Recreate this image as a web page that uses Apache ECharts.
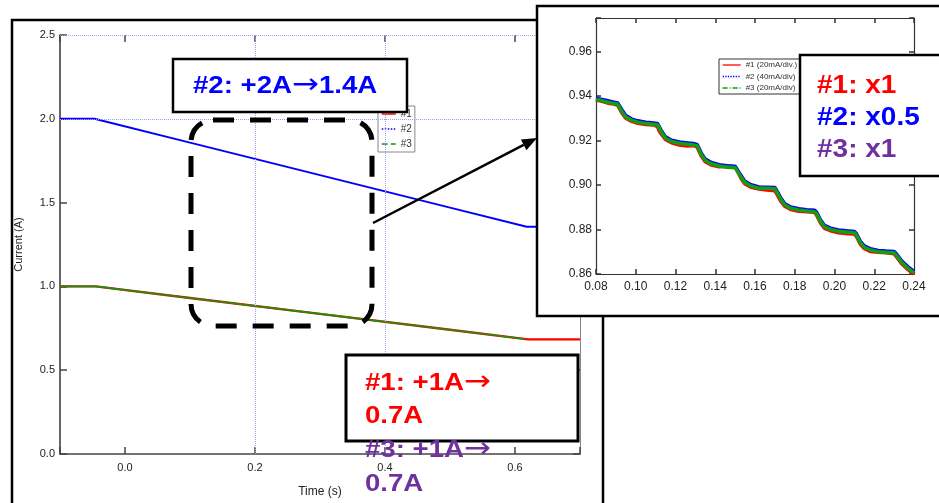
<!DOCTYPE html>
<html><head><meta charset="utf-8">
<script src="https://cdn.jsdelivr.net/npm/echarts@6/dist/echarts.min.js"></script>
<style>html,body{margin:0;padding:0;background:#fff}#c{width:939px;height:503px}</style>
</head><body><div id="c"></div>
<script>
// ---------- data ----------
const mainNames = ['#1', '#2', '#3'];
const insetNames = ['#1 (20mA/div.)', '#2 (40mA/div)', '#3 (20mA/div)'];

// main chart: Current (A) vs Time (s)
const main1 = [[-0.1,1.0],[-0.045,1.0],[0.1,0.931],[0.3,0.836],[0.5,0.741],[0.62,0.684],[0.7,0.684]];
const main2 = [[-0.1,2.0],[-0.047,2.0],[0.1,1.858],[0.3,1.664],[0.5,1.470],[0.618,1.356],[0.7,1.356]];
const main3 = [[-0.1,1.0],[-0.045,1.0],[0.1,0.931],[0.3,0.836],[0.5,0.741],[0.615,0.686]];

// inset (zoom 0.08–0.24 s)
const ins1 = [[0.080,0.9382],[0.083,0.9376],[0.086,0.9368],[0.089,0.9364],[0.091,0.9358],[0.093,0.9325],[0.095,0.9300],[0.098,0.9286],[0.101,0.9278],[0.105,0.9272],[0.109,0.9270],[0.111,0.9262],[0.112,0.9240],[0.115,0.9205],[0.118,0.9190],[0.122,0.9180],[0.126,0.9176],[0.129,0.9178],[0.131,0.9170],[0.133,0.9130],[0.135,0.9105],[0.138,0.9090],[0.142,0.9082],[0.146,0.9085],[0.150,0.9080],[0.151,0.9066],[0.153,0.9030],[0.155,0.9005],[0.158,0.8990],[0.162,0.8982],[0.166,0.8978],[0.170,0.8975],[0.171,0.8960],[0.173,0.8928],[0.175,0.8905],[0.178,0.8890],[0.182,0.8882],[0.186,0.8880],[0.190,0.8878],[0.191,0.8865],[0.193,0.8830],[0.195,0.8806],[0.198,0.8795],[0.202,0.8786],[0.206,0.8782],[0.210,0.8780],[0.211,0.8770],[0.213,0.8735],[0.215,0.8715],[0.218,0.8702],[0.222,0.8698],[0.226,0.8696],[0.230,0.8692],[0.231,0.8680],[0.234,0.8645],[0.237,0.8620],[0.240,0.8600]];
const ins2 = [[0.080,0.9390],[0.083,0.9384],[0.086,0.9378],[0.089,0.9372],[0.091,0.9368],[0.093,0.9338],[0.095,0.9312],[0.098,0.9296],[0.101,0.9288],[0.105,0.9282],[0.109,0.9278],[0.111,0.9276],[0.113,0.9242],[0.115,0.9216],[0.118,0.9201],[0.122,0.9193],[0.126,0.9189],[0.129,0.9186],[0.131,0.9181],[0.133,0.9142],[0.135,0.9116],[0.138,0.9101],[0.142,0.9091],[0.146,0.9086],[0.150,0.9084],[0.151,0.9077],[0.153,0.9042],[0.155,0.9016],[0.158,0.9001],[0.162,0.8991],[0.166,0.8990],[0.170,0.8989],[0.171,0.8982],[0.173,0.8942],[0.175,0.8916],[0.178,0.8901],[0.182,0.8893],[0.186,0.8889],[0.190,0.8886],[0.191,0.8877],[0.193,0.8842],[0.195,0.8818],[0.198,0.8806],[0.202,0.8798],[0.206,0.8794],[0.210,0.8791],[0.211,0.8782],[0.213,0.8747],[0.215,0.8726],[0.218,0.8714],[0.222,0.8706],[0.226,0.8703],[0.230,0.8701],[0.231,0.8692],[0.234,0.8657],[0.237,0.8632],[0.240,0.8612]];
const ins3 = [[0.080,0.9385],[0.083,0.9378],[0.086,0.9372],[0.089,0.9366],[0.091,0.9362],[0.093,0.9330],[0.095,0.9305],[0.098,0.9290],[0.101,0.9282],[0.105,0.9276],[0.109,0.9272],[0.111,0.9270],[0.113,0.9235],[0.115,0.9210],[0.118,0.9195],[0.122,0.9187],[0.126,0.9183],[0.129,0.9180],[0.131,0.9175],[0.133,0.9135],[0.135,0.9110],[0.138,0.9095],[0.142,0.9085],[0.146,0.9080],[0.150,0.9078],[0.151,0.9070],[0.153,0.9035],[0.155,0.9010],[0.158,0.8995],[0.162,0.8985],[0.166,0.8985],[0.170,0.8983],[0.171,0.8975],[0.173,0.8935],[0.175,0.8910],[0.178,0.8895],[0.182,0.8887],[0.186,0.8883],[0.190,0.8880],[0.191,0.8870],[0.193,0.8835],[0.195,0.8812],[0.198,0.8800],[0.202,0.8792],[0.206,0.8788],[0.210,0.8785],[0.211,0.8775],[0.213,0.8740],[0.215,0.8720],[0.218,0.8708],[0.222,0.8700],[0.226,0.8697],[0.230,0.8695],[0.231,0.8685],[0.234,0.8650],[0.237,0.8625],[0.240,0.8605]];

// axis ranges / ticks
const mainXRange = [-0.1, 0.7];
const mainXStep = 0.2;
const mainYRange = [0, 2.5];
const mainYStep = 0.5;
const insXRange = [0.08, 0.24];
const insXStep = 0.02;
const insYRange = [0.86, 0.975];
const insYStep = 0.02;
const mainGridX = [0.2, 0.4];
const mainGridY = [2.0, 2.5];
const insGridX = [0.12, 0.18];
const insGridY = [0.86, 0.92, 0.96];

// annotation texts
const noteTop = '#2: +2A→1.4A';
const noteBottom = [['#1: +1A→', '0.7A'], ['#3: +1A→', '0.7A']];
const noteInset = ['#1: x1', '#2: x0.5', '#3: x1'];

// ---------- chart ----------
const RED = '#ff0000', BLUE = '#0000ff', GREEN = '#0a9a0a', PURPLE = '#7030a0';
const AX_FONT = 'sans-serif';
const TXT_FONT = '"Liberation Sans",Arial,sans-serif';

const chart = echarts.init(document.getElementById('c'));

function isStep(v, step, base) {
  const k = (v - base) / step;
  return Math.abs(k - Math.round(k)) < 1e-6;
}

const tick = (len, color) => ({show: true, inside: true, length: len, lineStyle: {color: color, width: 1.5}});

const gridLineStyle = {color: '#9c9cf0', type: 'dotted', width: 1};
const edgeLine = (c, w, idx, show) => ({show: show !== false, onZeroAxisIndex: idx, lineStyle: {color: c, width: w}});
const plainLine = (c, w) => ({show: true, lineStyle: {color: c, width: w}});

const xAxis = [
  { gridIndex: 0, type: 'value', position: 'bottom', min: mainXRange[0], max: mainXRange[1], splitNumber: 4,
    axisLine: edgeLine('#444', 1.5, 4), axisTick: tick(7, '#444'),
    splitLine: {show: false},
    axisLabel: {margin: 8, color: '#222', fontSize: 11, fontFamily: AX_FONT,
      formatter: v => isStep(v, mainXStep, 0) ? v.toFixed(1) : ''},
    name: 'Time (s)', nameLocation: 'middle', nameGap: 32,
    nameTextStyle: {color: '#222', fontSize: 12, fontFamily: AX_FONT} },
  { gridIndex: 0, type: 'value', position: 'top', min: mainXRange[0], max: mainXRange[1], splitNumber: 4,
    axisLine: edgeLine('#9c9cf0', 1, 4, false), axisTick: tick(7, '#444'), axisLabel: {show: false}, splitLine: {show: false} },
  { gridIndex: 1, type: 'value', position: 'bottom', min: insXRange[0], max: insXRange[1], interval: insXStep, z: 22,
    axisLine: plainLine('#333', 1.2), axisTick: tick(5, '#333'),
    splitLine: {show: false},
    axisLabel: {margin: 7, color: '#222', fontSize: 12, fontFamily: AX_FONT, formatter: v => v.toFixed(2)} },
  { gridIndex: 1, type: 'value', position: 'top', min: insXRange[0], max: insXRange[1], interval: insXStep, z: 22,
    axisLine: plainLine('#333', 1.2), axisTick: tick(5, '#333'),
    axisLabel: {show: false}, splitLine: {show: false} },
  { gridIndex: 0, type: 'value', min: 1, max: 2, show: false }
];

const yAxis = [
  { gridIndex: 0, type: 'value', position: 'left', min: mainYRange[0], max: mainYRange[1], interval: mainYStep,
    axisLine: edgeLine('#333', 1.5, 4), axisTick: tick(7, '#444'),
    splitLine: {show: false},
    axisLabel: {margin: 5, color: '#222', fontSize: 11, fontFamily: AX_FONT, formatter: v => v.toFixed(1)},
    name: 'Current (A)', nameLocation: 'middle', nameGap: 36,
    nameTextStyle: {color: '#222', fontSize: 11, fontFamily: AX_FONT} },
  { gridIndex: 0, type: 'value', position: 'right', min: mainYRange[0], max: mainYRange[1], interval: mainYStep,
    axisLine: edgeLine('#888', 1, 4), axisTick: tick(7, '#444'),
    axisLabel: {show: false}, splitLine: {show: false} },
  { gridIndex: 1, type: 'value', position: 'left', min: insYRange[0], max: insYRange[1], interval: insYStep, z: 22,
    axisLine: plainLine('#333', 1.2), axisTick: tick(5, '#333'),
    splitLine: {show: false}, axisLabel: {margin: 4, color: '#222', fontSize: 12, fontFamily: AX_FONT,
      formatter: v => isStep(v, insYStep, insYRange[0]) ? v.toFixed(2) : ''} },
  { gridIndex: 1, type: 'value', position: 'right', min: insYRange[0], max: insYRange[1], interval: insYStep, z: 22,
    axisLine: plainLine('#333', 1.2), axisTick: tick(5, '#333'),
    axisLabel: {show: false}, splitLine: {show: false} },
  { gridIndex: 0, type: 'value', min: 1, max: 2, show: false }
];

const lineSeries = (name, data, color, width, xi, yi, z) => ({
  name, type: 'line', data, xAxisIndex: xi, yAxisIndex: yi, z,
  symbol: 'none', showSymbol: false, smooth: false, silent: true,
  lineStyle: {color, width, type: 'solid'}, itemStyle: {color}
});

const series = [
  { type: 'line', data: [], xAxisIndex: 0, yAxisIndex: 0, z: 1, silent: true,
    markLine: {silent: true, symbol: 'none', label: {show: false}, lineStyle: gridLineStyle, animation: false,
      data: mainGridY.map(v => ({yAxis: v})).concat(mainGridX.map(v => ({xAxis: v})))} },
  lineSeries(mainNames[1], main2, BLUE, 2, 0, 0, 2),
  lineSeries(mainNames[0], main1, RED, 2.4, 0, 0, 2),
  lineSeries(mainNames[2], main3, GREEN, 1.6, 0, 0, 3),
  { type: 'line', data: [], xAxisIndex: 2, yAxisIndex: 2, z: 23, silent: true,
    markLine: {silent: true, symbol: 'none', label: {show: false}, lineStyle: gridLineStyle, animation: false,
      data: insGridY.map(v => ({yAxis: v})).concat(insGridX.map(v => ({xAxis: v})))} },
  lineSeries(insetNames[0], ins1, RED, 3.8, 2, 2, 24),
  lineSeries(insetNames[1], ins2, BLUE, 3.5, 2, 2, 24),
  lineSeries(insetNames[2], ins3, '#11a011', 3.6, 2, 2, 25)
];

// arrow geometry (annotation)
const aStart = [373, 223], aTip = [537, 138];
const dx = aTip[0] - aStart[0], dy = aTip[1] - aStart[1], L = Math.hypot(dx, dy);
const ux = dx / L, uy = dy / L, hl = 15, hw = 6;
const bx = aTip[0] - ux * hl, by = aTip[1] - uy * hl;

const bigRich = (color, size) => ({
  b: {fontFamily: TXT_FONT, fontWeight: 'bold', fontSize: size, fill: color},
  a: {fontFamily: '"DejaVu Sans",sans-serif', fontWeight: 'normal', fontSize: size + 4, fill: color}
});
const splitArrow = s => s.replace('→', '}{a|→}{b|');

function noteText(txt, x, y, color, size, sx, z) {
  return { type: 'text', x, y, scaleX: sx, z, silent: true,
    style: {text: '{b|' + splitArrow(txt) + '}', rich: bigRich(color, size), verticalAlign: 'middle', align: 'left'} };
}

const graphics = [
  {type: 'rect', z: 0, silent: true, shape: {x: 12, y: 20, width: 591, height: 520},
    style: {fill: 'none', stroke: '#000', lineWidth: 2.5}},
  {type: 'rect', z: 9, silent: true, shape: {x: 191, y: 120, width: 181, height: 206, r: 22},
    style: {fill: 'none', stroke: '#000', lineWidth: 5, lineDash: [21, 16]}},
  {type: 'line', z: 9, silent: true, shape: {x1: aStart[0], y1: aStart[1], x2: bx, y2: by},
    style: {stroke: '#000', lineWidth: 2.5}},
  {type: 'polygon', z: 9, silent: true,
    shape: {points: [aTip, [bx - uy * hw, by + ux * hw], [bx + uy * hw, by - ux * hw]]},
    style: {fill: '#000'}},
  {type: 'rect', z: 10, silent: true, shape: {x: 173, y: 59, width: 234, height: 53},
    style: {fill: '#fff', stroke: '#000', lineWidth: 2.5}},
  noteText(noteTop, 193, 86, BLUE, 24, 1.15, 11),
  {type: 'rect', z: 20, silent: true, shape: {x: 346, y: 355, width: 232, height: 86},
    style: {fill: '#fff', stroke: '#000', lineWidth: 3}},
  noteText(noteBottom[0][0], 365, 383, RED, 24, 1.15, 21),
  noteText(noteBottom[0][1], 365, 416, RED, 24, 1.15, 21),
  noteText(noteBottom[1][0], 365, 450, PURPLE, 24, 1.15, 21),
  noteText(noteBottom[1][1], 365, 484, PURPLE, 24, 1.15, 21),
  {type: 'rect', z: 20, silent: true, shape: {x: 537, y: 6, width: 420, height: 310},
    style: {fill: '#fff', stroke: '#000', lineWidth: 2.5}},
  {type: 'rect', z: 30, silent: true, shape: {x: 800, y: 55, width: 150, height: 121},
    style: {fill: '#fff', stroke: '#000', lineWidth: 2.5}},
  noteText(noteInset[0], 817, 86, RED, 25, 1.12, 31),
  noteText(noteInset[1], 817, 118, BLUE, 25, 1.12, 31),
  noteText(noteInset[2], 817, 150, PURPLE, 25, 1.12, 31)
];

const option = {
  animation: false,
  backgroundColor: '#fff',
  grid: [
    {left: 60, top: 35, width: 520, height: 424},
    {left: 596, top: 18, width: 318, height: 256}
  ],
  xAxis, yAxis, series,
  legend: [
    { data: [{name: mainNames[0]}, {name: mainNames[1], lineStyle: {type: 'dotted'}}, {name: mainNames[2], lineStyle: {type: 'dashed'}}],
      left: 378, top: 106, orient: 'vertical', itemWidth: 14, itemHeight: 8, itemGap: 5,
      padding: [3, 3, 3, 3], borderColor: '#888', borderWidth: 1, borderRadius: 0, backgroundColor: '#fff',
      itemStyle: {opacity: 0},
      textStyle: {fontSize: 10, color: '#333'}, lineStyle: {width: 1.5}, z: 5, selectedMode: false },
    { data: [{name: insetNames[0]}, {name: insetNames[1], lineStyle: {type: 'dotted'}}, {name: insetNames[2], lineStyle: {type: [5, 2, 1, 2]}}],
      left: 719, top: 59, orient: 'vertical', itemWidth: 18, itemHeight: 6, itemGap: 3.5,
      padding: [2, 3, 2, 3], borderColor: '#333', borderWidth: 1, borderRadius: 0, backgroundColor: '#fff',
      itemStyle: {opacity: 0},
      textStyle: {fontSize: 8, color: '#333'}, lineStyle: {width: 1.3}, z: 26, selectedMode: false }
  ],
  graphic: {elements: graphics}
};
chart.setOption(option);
</script></body></html>
